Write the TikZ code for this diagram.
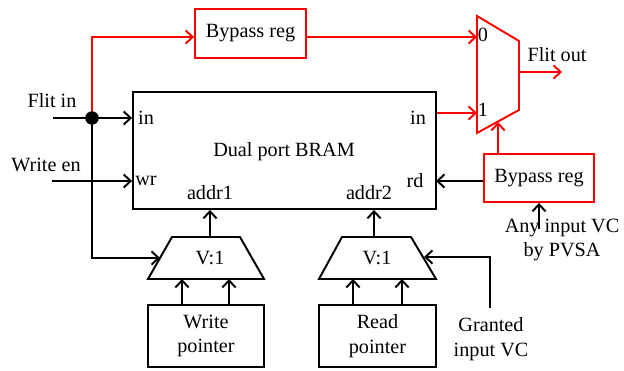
\documentclass[tikz,border=0pt]{standalone}
\usepackage{fontspec}
\setmainfont{Liberation Serif}
\usetikzlibrary{arrows.meta}
\begin{document}
\begin{tikzpicture}[x=0.02cm,y=-0.02cm,line width=1.1pt,
  >={Straight Barb[length=4pt,width=7.5pt]},
  lbl/.style={inner sep=0pt,font=\fontsize{11.5}{14}\selectfont,align=center},
  blk/.style={draw=black,line width=1.1pt,inner sep=0pt,font=\fontsize{11.5}{14}\selectfont,align=center},
  redbox/.style={draw=red,line width=1.1pt,inner sep=0pt,font=\fontsize{11.5}{14}\selectfont,align=center},
  wire/.style={draw=black,->},
  redwire/.style={draw=red,->}]
\useasboundingbox (0,0) rectangle (624,371);

% main memory block
\node[blk,minimum width=6.06cm,minimum height=2.34cm] (bram) at (284.5,150.5) {};
\node[lbl] (bramlbl) at (284,152) {Dual port BRAM};
\node[lbl] (inl) at (146,118) {in};
\node[lbl] (wrl) at (146,181) {wr};
\node[lbl] (inr) at (418,118) {in};
\node[lbl] (rdl) at (415,181) {rd};
\node[lbl] (addr1) at (210,193) {addr1};
\node[lbl] (addr2) at (369,193) {addr2};

% bypass registers
\node[redbox,minimum width=2.22cm,minimum height=0.98cm] (bp1) at (250.5,33.5) {Bypass reg};
\node[redbox,minimum width=2.2cm,minimum height=0.96cm] (bp2) at (539,178) {Bypass reg};

% pointers
\node[blk,minimum width=2.32cm,minimum height=1.24cm] (wp) at (206,336) {Write\\pointer};
\node[blk,minimum width=2.34cm,minimum height=1.24cm] (rp) at (377.5,336) {Read\\pointer};

% V:1 selectors
\draw[black] (148,279) -- (172,237) -- (240,237) -- (264,279) -- cycle;
\node[lbl] (v1a) at (210,258) {V:1};
\draw[black] (319,279) -- (342,237) -- (411,237) -- (436,279) -- cycle;
\node[lbl] (v1b) at (377,258) {V:1};

% output multiplexer
\draw[red] (477,16) -- (519,41) -- (519,110) -- (477,133) -- cycle;
\node[lbl] (zero) at (483,35) {0};
\node[lbl] (one) at (483,110) {1};

% external labels
\node[lbl] (flitin) at (52,101) {Flit in};
\node[lbl] (writeen) at (46,165) {Write en};
\node[lbl] (flitout) at (557,55) {Flit out};
\node[lbl] (anyvc) at (562,240) {Any input VC\\by PVSA};
\node[lbl] (granted) at (491,339) {Granted\\input VC};

% connection points
\coordinate (fin) at (53,118);
\coordinate (wen) at (52,181);
\coordinate (m1in) at (160,258);
\coordinate (m1top) at (210,237);
\coordinate (m1b1) at (182,279);
\coordinate (m1b2) at (229,279);
\coordinate (m2in) at (424,257);
\coordinate (m2top) at (374,237);
\coordinate (m2b1) at (353,279);
\coordinate (m2b2) at (402,279);
\coordinate (gvc) at (490,308);
\coordinate (rdpt) at (436,181);
\coordinate (mux0) at (477,37);
\coordinate (mux1) at (477,113);
\coordinate (sel) at (498,122);
\coordinate (mout) at (519,72);
\coordinate (fout) at (562,72);
\coordinate (anyv) at (539,229);
\coordinate (split) at (92,118);

% bypass path
\draw[redwire] (split) |- (bp1.west |- mux0);
\draw[redwire] (bp1.east |- mux0) -- (mux0);
\draw[redwire] (bram.east |- mux1) -- (mux1);
\draw[redwire] (sel |- bp2.north) -- (sel);
\draw[redwire] (mout) -- (fout);

% write side
\draw (fin) -- (split);
\draw[wire] (split) -- (bram.west |- split);
\draw[wire] (split) |- (m1in);
\draw[wire] (wen) -- (bram.west |- wen);
\draw[wire] (m1top) -- (m1top |- bram.south);
\draw[wire] (m1b1 |- wp.north) -- (m1b1);
\draw[wire] (m1b2 |- wp.north) -- (m1b2);

% read side
\draw[wire] (m2top) -- (m2top |- bram.south);
\draw[wire] (m2b1 |- rp.north) -- (m2b1);
\draw[wire] (m2b2 |- rp.north) -- (m2b2);
\draw[wire] (gvc) |- (m2in);
\draw[wire] (bp2.west |- rdpt) -- (rdpt);
\draw[wire] (anyv) -- (anyv |- bp2.south);

% fan-out dot
\node[circle,fill=black,inner sep=0pt,minimum size=0.27cm] (dot) at (split) {};
\end{tikzpicture}
\end{document}
